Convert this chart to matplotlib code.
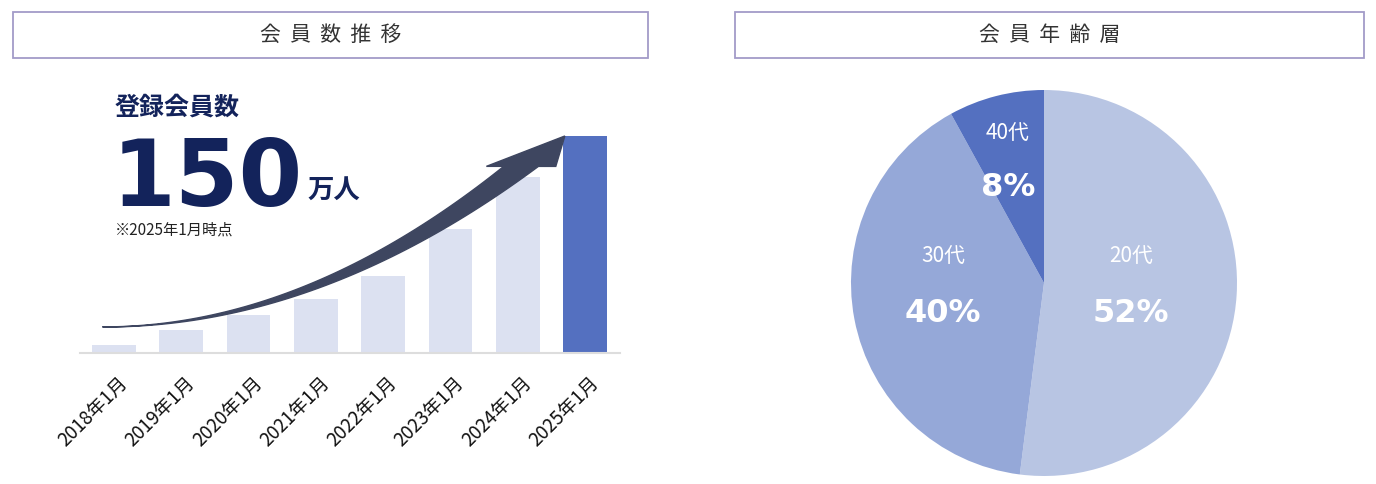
import matplotlib
matplotlib.use("Agg")
import matplotlib.pyplot as plt
import numpy as np
from matplotlib.patches import Rectangle, Polygon

plt.rcParams['font.family'] = ['Noto Sans CJK JP', 'DejaVu Sans']

years = ["2018年1月", "2019年1月", "2020年1月", "2021年1月", "2022年1月", "2023年1月", "2024年1月", "2025年1月"]
members = [5.5, 16, 26, 37, 53, 86, 122, 150]
age_labels = ["20代", "30代", "40代"]
age_share = [52, 40, 8]
age_colors = ["#B8C5E3", "#95A8D8", "#5470C0"]

W, H = 1376, 484
fig = plt.figure(figsize=(W/100, H/100), dpi=100)
navy = "#13235B"

def px(x0, y0, w, h):
    return [x0/W, 1-(y0+h)/H, w/W, h/H]

# title boxes
for x0, x1, t in [(13, 648, "会  員  数  推  移"), (735, 1364, "会  員  年  齢  層")]:
    fig.patches.append(Rectangle((x0/W, 1-58/H), (x1-x0)/W, 46/H, transform=fig.transFigure,
                                 fill=False, edgecolor="#A29BC8", lw=1.3))
    fig.text((x0+x1)/2/W, 1-35/H, t, ha="center", va="center", fontsize=15, color="#333333")

# bar chart
ax = fig.add_axes(px(80, 136, 540, 217))
x = np.arange(len(years))
colors = ["#DCE1F1"]*(len(years)-1) + ["#5470C0"]
ax.bar(x, members, width=0.65, color=colors, zorder=2)
ax.set_xlim(-0.505, 7.52)
ax.set_ylim(0, 150)
for s in ["top", "right", "left"]:
    ax.spines[s].set_visible(False)
ax.spines["bottom"].set_color("#DDDDDD")
ax.spines["bottom"].set_linewidth(1.5)
ax.set_yticks([])
ax.set_xticks(x + 0.05)
ax.set_xticklabels(years, rotation=45, ha="right", rotation_mode="anchor", fontsize=13.5, color="#111111")
ax.tick_params(axis="x", length=0, pad=14)

# curved arrow (decorative)
t = np.linspace(0, 1, 60)
xs = -0.15 + t*6.2
ys = 18 + 111*t**2.0
wd = 1 + 11*t
sc = (217/150)/(540/8.02)
dx = np.gradient(xs); dy = np.gradient(ys)/sc
nrm = np.hypot(dx, dy)
nx, ny = -dy/nrm, dx/nrm
upper = np.c_[xs + nx*wd*sc, ys + ny*wd]
lower = np.c_[xs - nx*wd*sc, ys - ny*wd]
tipx, tipy = 6.7, 150
hx, hy = xs[-1], ys[-1]
head_w = 24
headU = [hx + nx[-1]*head_w*sc, hy + ny[-1]*head_w]
headL = [hx - nx[-1]*head_w*sc, hy - ny[-1]*head_w]
pts = np.vstack([upper, [headU, [tipx, tipy], headL], lower[::-1]])
ax.add_patch(Polygon(pts, closed=True, color="#3E4660", zorder=3, clip_on=False))

fig.text(115/W, 1-108/H, "登録会員数", fontsize=18, fontweight="bold", color=navy, va="center")
fig.text(112/W, 1-206/H, "150", fontsize=66, fontweight="bold", color=navy, va="baseline",
         family="DejaVu Sans")
fig.text(307/W, 1-190/H, "万人", fontsize=19, fontweight="bold", color=navy, va="center")
fig.text(115/W, 1-230/H, "※2025年1月時点", fontsize=11, color="#222222", va="center")

# pie
r = 193
axp = fig.add_axes(px(1044-r, 283-r, 2*r, 2*r))
axp.pie(age_share, colors=age_colors, startangle=90, counterclock=False, radius=1)
axp.set_xlim(-1, 1); axp.set_ylim(-1, 1)
axp.set_aspect("equal")
axp.axis("off")
pos = [(1131, 256, 313), (943, 256, 313), (1008, 133, 188)]
for (cx, ly, py), lab, v in zip(pos, age_labels, age_share):
    fig.text(cx/W, 1-ly/H, lab, ha="center", va="center", fontsize=15, color="white")
    fig.text(cx/W, 1-py/H, f"{v}%", ha="center", va="center", fontsize=23, fontweight="bold",
             color="white", family="DejaVu Sans")

fig.savefig("out.png", dpi=100)
